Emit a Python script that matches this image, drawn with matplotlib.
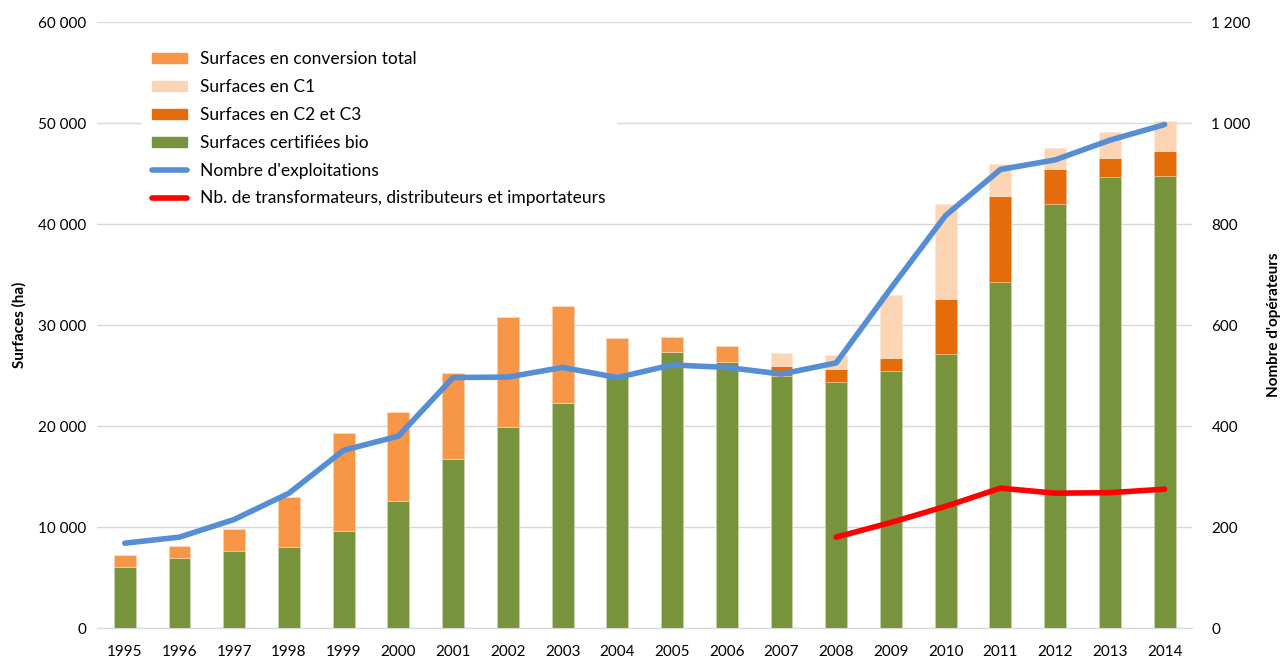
import matplotlib.pyplot as plt
import matplotlib.ticker as mticker
from matplotlib.patches import Patch
from matplotlib.lines import Line2D
import numpy as np

plt.rcParams['font.family'] = ['Lato', 'DejaVu Sans']

# data
years = [str(y) for y in range(1995, 2015)]
certifiees = [6040, 6960, 7620, 8050, 9640, 12600, 16730, 19930, 22310, 24880,
              27360, 26370, 25000, 24390, 25480, 27090, 34300, 42000, 44630, 44800]
conversion_total = [1190, 1160, 2150, 4890, 9630, 8790, 8550, 10890, 9570, 3830,
                    1420, 1550, 0, 0, 0, 0, 0, 0, 0, 0]
c2_c3 = [0] * 12 + [900, 1280, 1260, 5500, 8520, 3490, 1880, 2400]
c1 = [0] * 12 + [1360, 1360, 6260, 9410, 3140, 2080, 2630, 3000]
exploitations = [168, 180, 215, 267, 352, 380, 496, 497, 516, 496,
                 521, 516, 503, 525, 673, 817, 908, 927, 966, 997]
transformateurs = [np.nan] * 13 + [180, 209, 241, 277, 267, 268, 275]

green = '#77933C'
orange = '#F79646'
light = '#FCD5B5'
dark_orange = '#E46C0A'
blue = '#558ED5'
red = '#FF0000'

fig = plt.figure(figsize=(12.81, 6.57), dpi=100)
ax = fig.add_axes([0.076, 0.0441, 0.8545, 0.9224])
x = np.arange(len(years))
w = 0.4

cert = np.array(certifiees)
conv = np.array(conversion_total)
c23 = np.array(c2_c3)
ax.bar(x, cert, w, color=green, edgecolor='#c9d6b0', linewidth=0.5, zorder=2)
ax.bar(x, conv, w, bottom=cert, color=orange, edgecolor='#fbd0ad', linewidth=0.5, zorder=2)
ax.bar(x, c23, w, bottom=cert + conv, color=dark_orange, edgecolor='#f2b98a', linewidth=0.5, zorder=2)
ax.bar(x, c1, w, bottom=cert + conv + c23, color=light, edgecolor='#fde6d3', linewidth=0.5, zorder=2)

ax.set_xlim(-0.5, len(years) - 0.5)
ax.set_ylim(0, 60000)
ax.set_yticks(range(0, 60001, 10000))
fmt = lambda v, p: f"{int(v):,}".replace(',', ' ')
ax.yaxis.set_major_formatter(mticker.FuncFormatter(fmt))
ax.set_xticks(x)
ax.set_xticklabels(years)
ax.grid(axis='y', color='#d9d9d9', linewidth=1, zorder=0)
ax.set_axisbelow(True)
for s in ['top', 'right', 'left']:
    ax.spines[s].set_visible(False)
ax.spines['bottom'].set_color('#d9d9d9')
ax.tick_params(length=0, labelsize=11, colors='#000000')
ax.tick_params(axis='x', pad=12)
ax.tick_params(axis='y', pad=8)
ax.set_ylabel('Surfaces (ha)', fontsize=11, fontweight='bold', labelpad=8)

ax2 = ax.twinx()
ax2.plot(x, exploitations, color=blue, linewidth=4, solid_capstyle='round', zorder=3)
ax2.plot(x, transformateurs, color=red, linewidth=4, solid_capstyle='round', zorder=3)
ax2.set_ylim(0, 1200)
ax2.set_yticks(range(0, 1201, 200))
ax2.yaxis.set_major_formatter(mticker.FuncFormatter(fmt))
for s in ax2.spines.values():
    s.set_visible(False)
ax2.tick_params(length=0, labelsize=11, pad=14)
ax2.set_ylabel("Nombre d'opérateurs", fontsize=11, fontweight='bold', labelpad=12)

handles = [
    Patch(color=orange, label='Surfaces en conversion total'),
    Patch(color=light, label='Surfaces en C1'),
    Patch(color=dark_orange, label='Surfaces en C2 et C3'),
    Patch(color=green, label='Surfaces certifiées bio'),
    Line2D([], [], color=blue, linewidth=4, solid_capstyle='round', label="Nombre d'exploitations"),
    Line2D([], [], color=red, linewidth=4, solid_capstyle='round', label='Nb. de transformateurs, distributeurs et importateurs'),
]
leg = ax2.legend(handles=handles, loc='upper left', bbox_to_anchor=(0.0327, 0.983),
                 frameon=True, fontsize=12.5, handlelength=2.0, handleheight=0.5,
                 labelspacing=0.68, handletextpad=0.75, borderpad=0.6)
leg.get_frame().set_edgecolor('white')
leg.get_frame().set_facecolor('white')
leg.get_frame().set_alpha(1)

fig.savefig('out.png', dpi=100)
